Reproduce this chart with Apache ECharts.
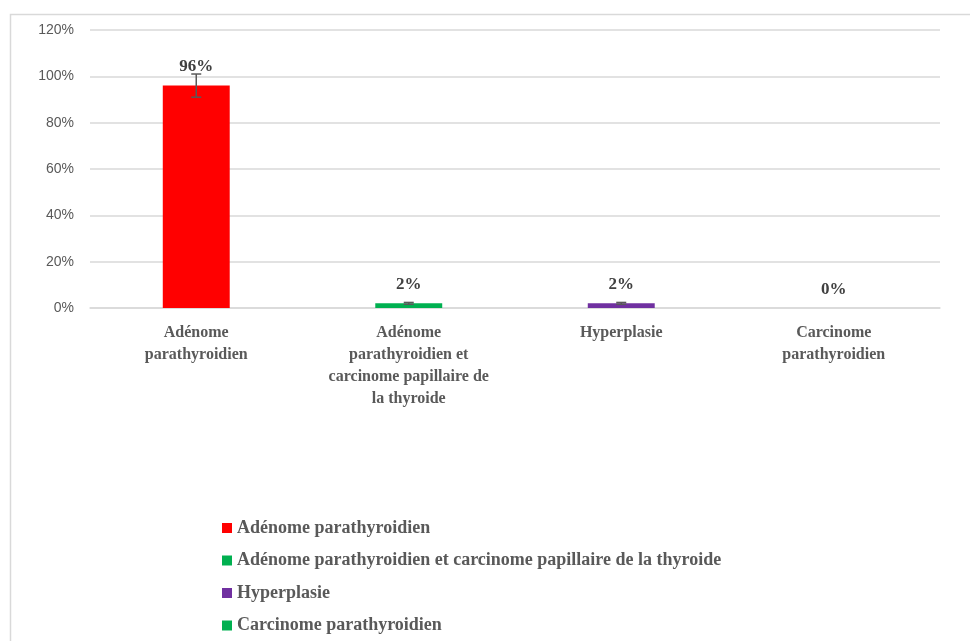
<!DOCTYPE html>
<html>
<head>
<meta charset="utf-8">
<script src="https://cdn.jsdelivr.net/npm/echarts@6/dist/echarts.min.js"></script>
<style>
  html, body { margin: 0; padding: 0; background: #fff; }
  #chart { width: 970px; height: 641px; }
</style>
</head>
<body>
<div id="chart"></div>
<script>
// categories (axis labels wrapped like the original)
const categories = [
  'Adénome\nparathyroidien',
  'Adénome\nparathyroidien et\ncarcinome papillaire de\nla thyroide',
  'Hyperplasie',
  'Carcinome\nparathyroidien'
]
const seriesNames = [
  'Adénome parathyroidien',
  'Adénome parathyroidien et carcinome papillaire de la thyroide',
  'Hyperplasie',
  'Carcinome parathyroidien'
]
const values = [96, 2, 2, 0]
const errors = [5, 0.4, 0.4, 0]
const colors = ['#FF0000', '#00B050', '#7030A0', '#00B050']
const yTicks = [0, 20, 40, 60, 80, 100, 120]

const serif = '"Liberation Serif", "DejaVu Serif", serif'

const barSeries = seriesNames.map(function (name, i) {
  return {
    name: name,
    type: 'bar',
    stack: 'all',
    barWidth: '31.5%',
    itemStyle: { color: colors[i] },
    label: {
      show: true,
      position: 'top',
      distance: 10,
      formatter: '{c}%',
      fontFamily: serif,
      fontWeight: 'bold',
      fontSize: 17,
      color: '#404040'
    },
    data: categories.map(function (c, j) { return j === i ? values[i] : null })
  }
})

// error bars, drawn only where there is an error value
const errorSeries = {
  type: 'custom',
  name: 'err',
  z: 5,
  silent: true,
  renderItem: function (params, api) {
    if (!api.value(2)) return null
    const idx = api.value(0)
    const top = api.coord([idx, api.value(1) + api.value(2)])
    const bot = api.coord([idx, api.value(1) - api.value(2)])
    const half = 5
    const style = { stroke: '#595959', lineWidth: 1.5 }
    return {
      type: 'group',
      children: [
        { type: 'line', shape: { x1: top[0], y1: top[1], x2: bot[0], y2: bot[1] }, style: style },
        { type: 'line', shape: { x1: top[0] - half, y1: top[1], x2: top[0] + half, y2: top[1] }, style: style },
        { type: 'line', shape: { x1: bot[0] - half, y1: bot[1], x2: bot[0] + half, y2: bot[1] }, style: style }
      ]
    }
  },
  encode: { x: 0, y: 1 },
  data: values.map(function (v, i) { return [i, v, errors[i]] })
}

const chart = echarts.init(document.getElementById('chart'))
chart.setOption({
  animation: false,
  graphic: [{
    type: 'rect',
    left: 8, top: 12,
    shape: { width: 1000, height: 700 },
    style: { fill: 'none', stroke: '#d9d9d9', lineWidth: 1.5 },
    z: -1
  }],
  grid: { left: 90, right: 30, top: 30, bottom: 333 },
  legend: {
    data: seriesNames,
    orient: 'vertical',
    left: 222,
    top: 519,
    height: 130,
    padding: 0,
    icon: 'rect',
    itemWidth: 10,
    itemHeight: 10,
    itemGap: 14.5,
    textStyle: {
      fontFamily: serif,
      fontWeight: 'bold',
      fontSize: 18,
      lineHeight: 18,
      color: '#595959'
    }
  },
  xAxis: {
    type: 'category',
    data: categories,
    axisLine: { lineStyle: { color: '#d9d9d9', width: 1.5 } },
    axisTick: { show: false },
    axisLabel: {
      interval: 0,
      margin: 14,
      fontFamily: serif,
      fontWeight: 'bold',
      fontSize: 16,
      lineHeight: 22,
      color: '#595959'
    }
  },
  yAxis: {
    type: 'value',
    min: 0,
    max: yTicks[yTicks.length - 1],
    interval: 20,
    axisLine: { show: false },
    axisTick: { show: false },
    splitLine: { lineStyle: { color: '#d9d9d9', width: 1.5 } },
    axisLabel: {
      formatter: '{value}%',
      margin: 16,
      fontFamily: '"Liberation Sans", Arial, sans-serif',
      fontSize: 14,
      color: '#595959'
    }
  },
  series: barSeries.concat([errorSeries])
})
</script>
</body>
</html>
